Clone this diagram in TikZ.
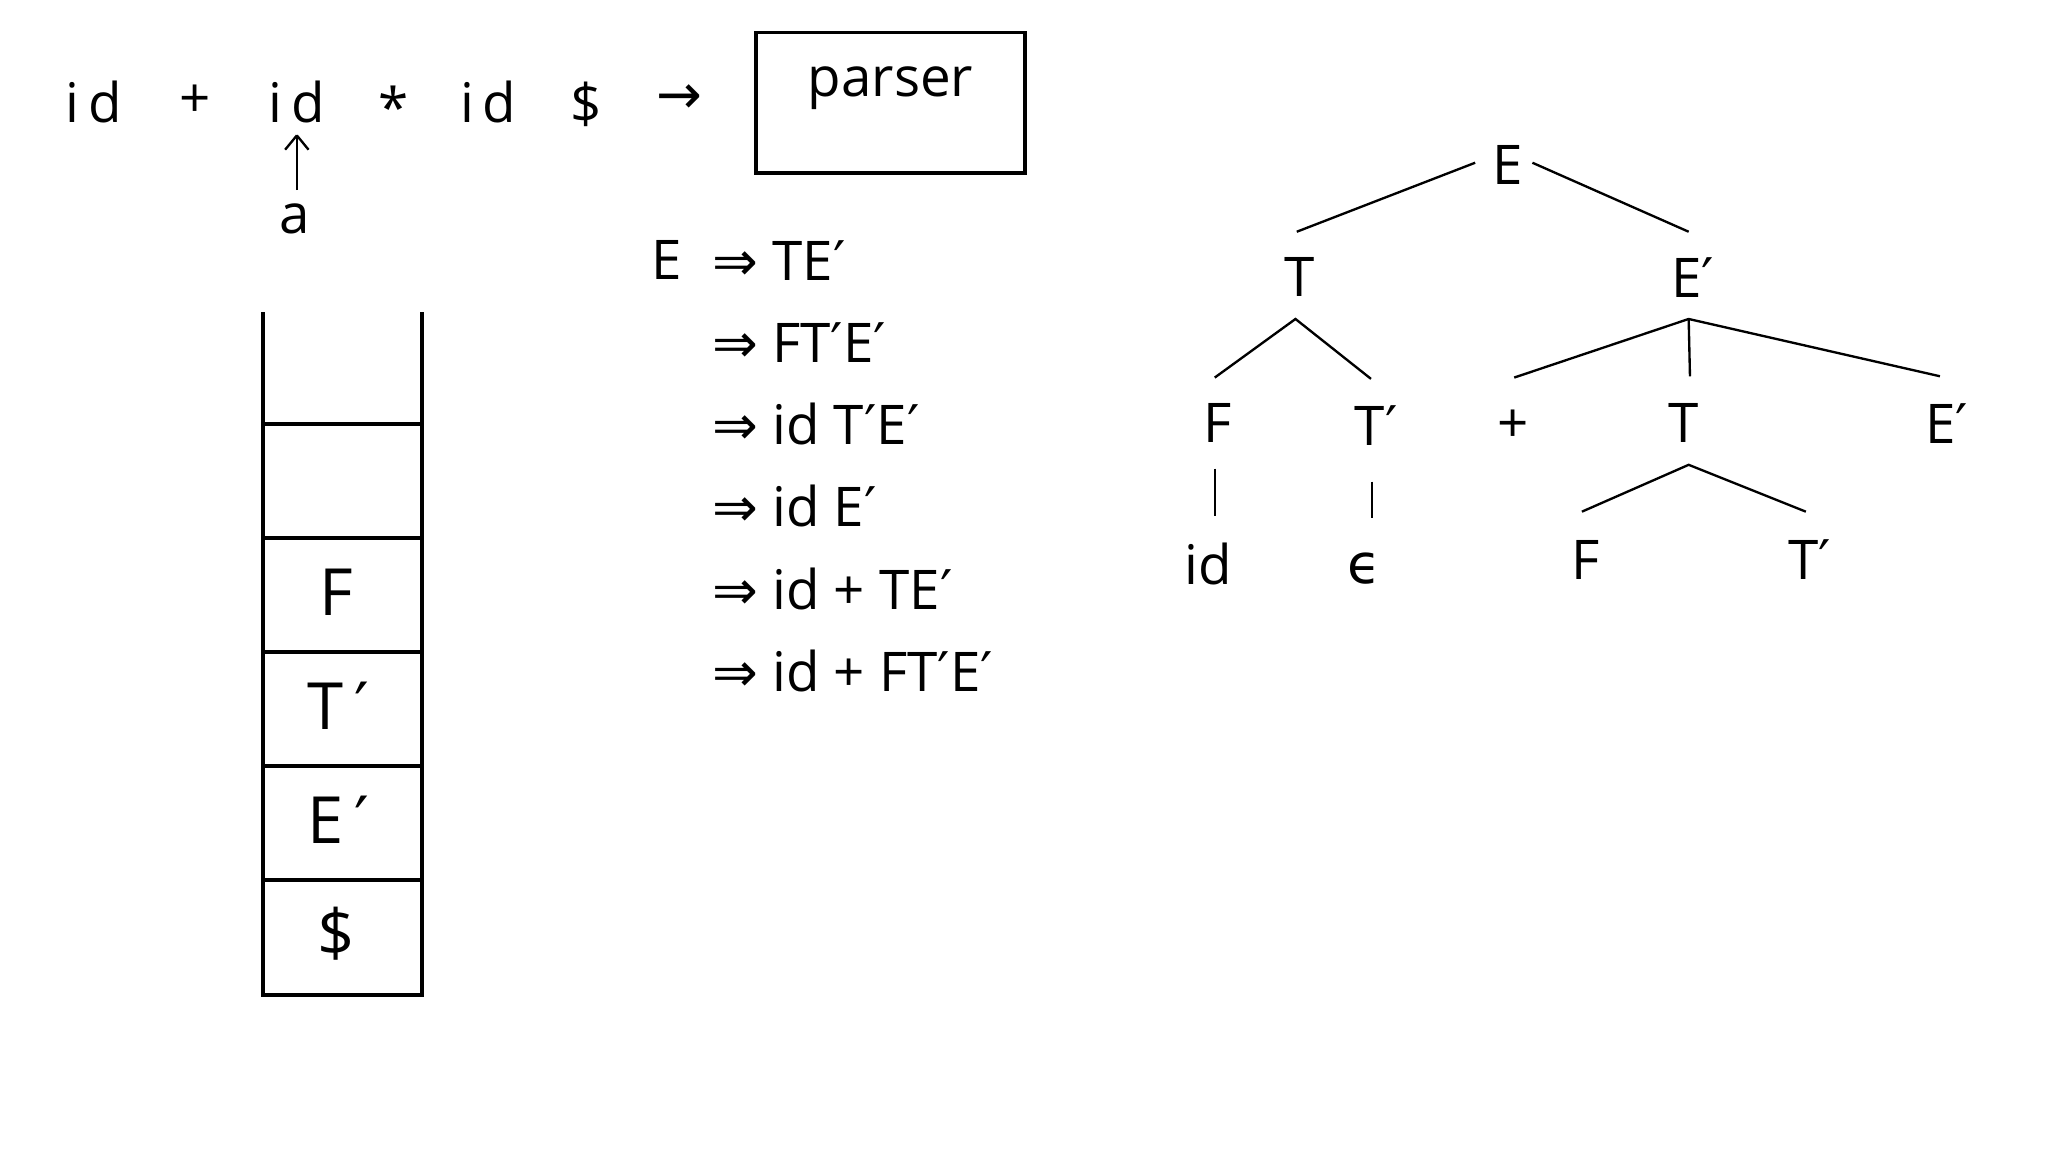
\documentclass[tikz,border=0pt]{standalone}
\usepackage{fontspec}
\setmainfont{Open Sans}
\newfontfamily\djv{DejaVu Sans}
\newcommand{\pr}{{\djv ′}}
\begin{document}
\begin{tikzpicture}[x=1pt,y=-1pt,
  big/.style={font=\fontsize{50}{60}\selectfont,inner sep=0pt},
  mid/.style={font=\fontsize{42}{50}\selectfont,inner sep=0pt},
  thick3/.style={line width=3pt},
  thin2/.style={line width=1.8pt}]
\useasboundingbox (0,0) rectangle (1573,885);
% input string
\node[mid] (i1) at (72,78) {i\,d};
\node[mid] (p1) at (150,78) {+};
\node[mid] (i2) at (228,78) {i\,d};
\node[mid] (s1) at (302,82) {*};
\node[mid] (i3) at (375,78) {i\,d};
\node[mid] (d1) at (450,80) {\$};
\node[mid] (ar) at (522,76) {\djv →};
\node[mid,draw,thick3,minimum width=207pt,minimum height=108pt] (parser) at (684,79) {};
\node[mid] (ptxt) at (684,68) {parser};
\node[mid] (a) at (226,168) {a};
\coordinate (ab) at (228,146);
\coordinate (at) at (228,104);
\draw[thin2] (ab) -- (at);
\draw[thin2] (at) -- ++(-9,11) (at) -- ++(9,11);
% stack
\draw[thick3] (202,240) -- (202,764) -- (324,764) -- (324,240);
\foreach \y in {326,413,501,588,676} \draw[thick3] (202,\y) -- (324,\y);
\node[big] (sF) at (258,455) {F};
\node[big] (sT) at (260,542) {T\,\pr};
\node[big] (sE) at (260,630) {E\,\pr};
\node[big] (sD) at (258,717) {\$};
% derivation
\node[mid] (dE) at (512,200) {E};
\node[mid,anchor=west] (d1) at (547,200) {{\djv ⇒} TE\pr};
\node[mid,anchor=west] (d2) at (547,263) {{\djv ⇒} FT\pr E\pr};
\node[mid,anchor=west] (d3) at (547,326) {{\djv ⇒} id T\pr E\pr};
\node[mid,anchor=west] (d4) at (547,389) {{\djv ⇒} id E\pr};
\node[mid,anchor=west] (d5) at (547,452) {{\djv ⇒} id + TE\pr};
\node[mid,anchor=west] (d6) at (547,515) {{\djv ⇒} id + FT\pr E\pr};
% tree
\node[mid] (tE) at (1158,127) {E};
\node[mid] (tT) at (998,213) {T};
\node[mid] (tEp) at (1300,213) {E\pr};
\node[mid] (tF) at (935,325) {F};
\node[mid] (tTp) at (1057,327) {T\pr};
\node[mid] (tpl) at (1162,327) {+};
\node[mid] (tT2) at (1293,325) {T};
\node[mid] (tEp2) at (1495,325) {E\pr};
\node[mid] (tid) at (928,433) {id};
\node[mid] (teps) at (1048,437) {\djv ϵ};
\node[mid] (tF2) at (1218,430) {F};
\node[mid] (tTp2) at (1390,430) {T\pr};
\draw[thin2] (1133,125) -- (996,178);
\draw[thin2] (1177,125) -- (1297,178);
\draw[thin2] (933,290) -- (995,245) -- (1053,291);
\draw[thin2] (1163,290) -- (1297,245) -- (1490,289);
\draw[thin2] (1297,245) -- (1298,289);
\draw[thin2] (1215,393) -- (1297,357) -- (1387,393);
\draw[thin2] (933,360) -- (933,396);
\draw[thin2] (1054,370) -- (1054,398);
\end{tikzpicture}
\end{document}
